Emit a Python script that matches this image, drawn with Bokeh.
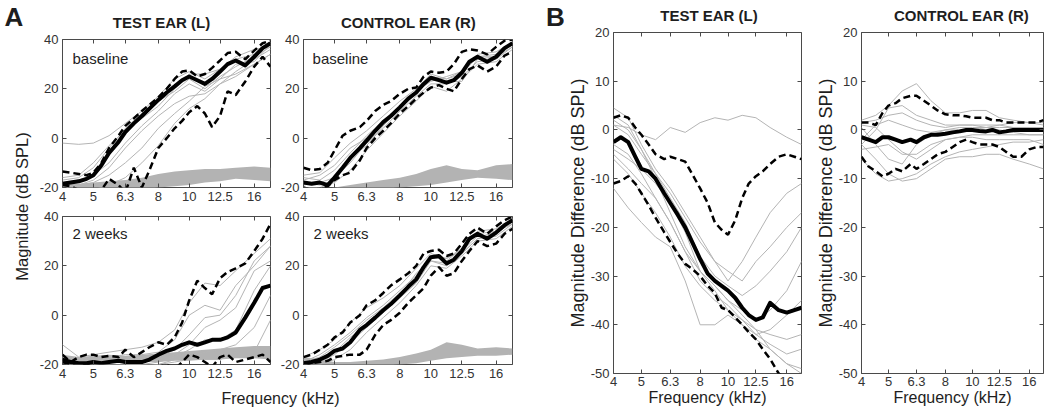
import math
from bokeh.plotting import figure
from bokeh.models import Range1d, FixedTicker, LinearAxis, LogAxis, CustomJSTickFormatter
from bokeh.layouts import row, column
from bokeh.embed import file_html
from bokeh.resources import INLINE
from bokeh.core.properties import value

# ---------------- data ----------------
FREQ_FINE = [4.0, 4.24, 4.5, 4.76, 5.0, 5.3, 5.6, 6.0, 6.3, 6.7, 7.1, 7.5, 8.0, 8.5, 9.0,
             9.5, 10.0, 10.6, 11.2, 11.8, 12.5, 13.2, 14.0, 15.0, 16.0, 17.0, 18.0]
FREQ_COARSE = [4.0, 4.5, 5.0, 5.6, 6.3, 7.1, 8.0, 9.0, 10.0, 11.2, 12.5, 14.0, 16.0, 18.0]
X_TICKS = [4, 5, 6.3, 8, 10, 12.5, 16]
A_Y_TICKS = [-20, 0, 20, 40]
B_Y_TICKS = [-50, -40, -30, -20, -10, 0, 10, 20]

# Panel A, test ear, baseline
A_TL_MEAN = [-18.5, -18, -17.5, -16.5, -15, -11, -6, -1.5, 2.5, 6, 9, 12, 15.5, 18.5, 21,
             23.5, 25, 23.5, 22, 24, 27, 30, 31.5, 29.5, 33, 36.5, 38.5]
A_TL_UPPER = [-13.5, -14, -14.5, -15, -14, -10, -4, 1, 5, 8, 11, 13.5, 16.5, 20, 24,
              27, 27.5, 25, 26, 28.5, 31.5, 34.5, 35, 32, 35.5, 38.5, 39.5]
A_TL_LOWER = [-19, -19.5, -21, -22, -22, -21, -16.5, -19, -22, -12, -20, -13, -4, 0, 4,
              7, 10.5, 13, 10, 4.5, 9, 19, 17.5, 23, 29, 33, 29]
A_TL_GREY = [
    [-2, -2.5, -2, 1, 6, 11, 17, 24, 27, 24, 28, 33, 36, 37],
    [-17, -16, -12, -4, 4, 10, 15, 19, 24, 20, 25, 29, 33, 37],
    [-19, -19, -17, -12, -4, 3, 9, 14, 17, 18, 22, 27, 32, 36],
    [-20, -19, -18, -15, -10, -4, 4, 10, 15, 21, 24, 26, 30, 34],
    [-21, -21, -21, -19, -16, -10, -3, 6, 12, 16, 22, 25, 30, 34],
    [-16, -15, -10, -3, 3, 8, 13, 20, 26, 26, 28, 32, 34, 38],
    [-18, -17, -15, -10, -2, 5, 11, 18, 22, 19, 24, 30, 31, 38],
]
A_TL_BAND_HI = [-18.5, -18.5, -18, -17.5, -17, -16, -14.5, -13.5, -13, -12.5, -12.5, -12, -11.5, -12]
A_TL_BAND_LO = [-21, -21, -21, -21, -21, -21, -20, -19.5, -19, -18, -17.5, -16.5, -17, -17.5]

# Panel A, control ear, baseline
A_TR_MEAN = [-18, -18.5, -18, -19, -16, -12, -8, -4, -1, 3, 6.5, 9, 12.5, 16, 18.5,
             22, 24.5, 23.5, 22.5, 23.5, 26.5, 31, 33, 31, 33, 36.5, 38.5]
A_TR_UPPER = [-12, -13, -12.5, -10, -5, 1, 3, 4.5, 7, 11, 13.5, 15, 18, 20, 20.5,
              25, 27, 26.5, 27, 30, 35, 36, 35.5, 34, 37, 39.5, 40]
A_TR_LOWER = [-20, -21, -20.5, -19.5, -17, -15, -14, -9, -4, 0, 3, 6, 10, 13, 16,
              18.5, 20.5, 21.5, 20, 19, 24, 28, 29.5, 27, 29, 33.5, 35]
A_TR_GREY = [
    [-16, -17, -13, -6, 1, 7, 13, 19, 25, 24, 26, 33, 34, 39],
    [-19, -18, -16, -10, -2, 4, 11, 17, 22, 22, 25, 31, 32, 37],
    [-15, -14, -8, -2, 3, 9, 15, 20, 26, 24, 27, 34, 35, 39],
    [-20, -20, -18, -13, -5, 2, 9, 15, 21, 19, 24, 30, 31, 36],
    [-18, -19, -17, -8, -3, 5, 12, 18, 24, 23, 23, 32, 33, 38],
    [-17, -15, -11, -4, 0, 6, 13, 19, 23, 25, 27, 33, 33, 37],
]
A_TR_BAND_HI = [-21, -21, -20, -19, -18, -17, -16, -14.5, -12.5, -11, -12.5, -13, -11, -10.5]
A_TR_BAND_LO = [-21, -21, -21, -21, -21, -20.5, -20, -19.5, -19, -18, -17, -16, -16.5, -17]

# Panel A, test ear, 2 weeks
A_BL_MEAN = [-18, -19, -19.5, -19.5, -19, -19.5, -19, -18.5, -19, -19, -19, -18, -16, -14.5, -13.5,
             -12, -11, -12, -11, -10, -10, -9, -7, -1, 5, 11, 12]
A_BL_UPPER = [-16, -19, -17, -16, -16, -17, -16.5, -17, -14, -17, -15, -13, -11, -12, -9,
              -3, 6, 14, 11, 8.5, 15, 17.5, 19, 21, 26, 31, 37]
A_BL_LOWER = [-19, -20, -21, -19.5, -21, -22, -22, -22, -21, -22, -21, -22, -21, -20, -22,
              -19, -16, -17, -19, -21, -17, -16, -19, -18, -17, -16, -19]
A_BL_GREY = [
    [-12, -17, -16, -15, -14, -13, -11, -6, 5, 13, 12, 18, 25, 31],
    [-17, -18, -17, -17, -16, -16, -15, -10, 0, 4, 2, 12, 20, 28],
    [-19, -19, -18, -18, -18, -18, -17, -14, -8, -1, 0, 8, 22, 28],
    [-20, -20, -19, -19, -19, -19, -18, -16, -12, -5, -2, 3, 18, 22],
    [-21, -21, -20, -20, -20, -20, -19, -17, -14, -10, -10, -6, 10, 20],
    [-21, -21, -21, -21, -20, -20, -20, -18, -17, -15, -14, -12, -5, 8],
    [-22, -22, -21, -21, -21, -21, -20, -19, -18, -18, -18, -15, -15, -2],
]
A_BL_BAND_HI = [-16, -17, -16.5, -16, -16.5, -16, -15.5, -15, -14.5, -14, -13.5, -13, -12.5, -12.5]
A_BL_BAND_LO = [-20, -19.5, -19.5, -19, -19.5, -19, -19, -18.5, -18.5, -18, -18, -17.5, -17.5, -18]

# Panel A, control ear, 2 weeks
A_BR_MEAN = [-19.5, -19, -18, -16.5, -14.5, -13.5, -11, -6, -4, -1, 2, 4.5, 8, 11.5, 14.5,
             19.5, 23.5, 24, 21, 22.5, 26, 31, 33, 31, 33.5, 36.5, 38.5]
A_BR_UPPER = [-17, -16, -14, -12, -9, -7, -3, 0, 4, 6, 9, 12, 14.5, 17, 20,
              25, 26, 26.5, 24, 25, 29, 33, 35.5, 33, 36, 38.5, 40]
A_BR_LOWER = [-20, -19.5, -19, -18.5, -17, -16.5, -16, -16, -14, -8, -4, -2, 1, 5, 8,
              11, 16, 19.5, 16, 17, 22, 26, 30, 28, 29, 33, 35]
A_BR_GREY = [
    [-19, -16, -12, -7, -1, 4, 10, 16, 24, 22, 27, 33, 34, 39],
    [-20, -19, -16, -11, -5, 1, 7, 13, 22, 20, 25, 31, 32, 37],
    [-17, -14, -10, -3, 3, 7, 12, 19, 25, 23, 27, 34, 35, 39],
    [-21, -20, -18, -14, -7, -1, 5, 12, 20, 19, 24, 30, 31, 36],
    [-19, -17, -13, -8, -2, 3, 9, 15, 23, 23, 26, 32, 33, 38],
    [-18, -18, -15, -9, -4, 2, 8, 17, 22, 21, 25, 31, 34, 37],
]
A_BR_BAND_HI = [-17, -18, -19, -19, -18.5, -18, -17, -15.5, -14, -11, -12, -13.5, -13, -13.5]
A_BR_BAND_LO = [-21, -21, -21, -21, -20.5, -20.5, -20, -19.5, -18.5, -17.5, -17, -16.5, -16.5, -16]

# Panel B, test ear difference
B_L_MEAN = [-2.5, -1.5, -2.5, -5.5, -8, -8.5, -10, -13, -15, -17.5, -20, -23, -26.5, -29.5, -31,
            -32, -33, -34.5, -36.5, -38, -39, -38.5, -35.5, -37, -37.5, -37, -36.5]
B_L_UPPER = [2.5, 3, 2.5, 0.5, -1, -3, -5, -6, -5.5, -6, -6.5, -9, -12, -15, -19,
             -20.5, -21.5, -18.5, -14, -11, -9.5, -8.5, -7, -5.5, -5, -5.5, -6]
B_L_LOWER = [-11, -10.5, -9.5, -11, -13, -15.5, -18, -21, -23, -25.5, -27.5, -28.5, -30, -32, -33.5,
             -36.5, -37, -38.5, -40, -41.5, -43, -45, -47, -50, -51, -52, -53]
B_L_GREY = [
    [1, 0.5, -1, -2, 0.5, -0.5, 1.5, 2.5, 2, 3, 2.5, 0.5, -1.5, -3],
    [4.5, 2.5, -3, -8, -12, -17, -22, -27, -31, -27, -22, -17, -13, -11],
    [3, 1, -4, -9, -13, -18, -23, -27, -29, -31, -27, -24, -20, -17],
    [1, -1, -5, -9, -14, -19, -26, -30, -32, -34, -32, -29, -25, -20],
    [-4, -6, -8, -11, -15, -21, -29, -32, -35, -37, -39, -37, -33, -27],
    [-12, -16, -19, -22, -24, -31, -40, -40, -38, -40, -42, -41, -38, -35],
    [-5, -8, -11, -14, -19, -25, -31, -34, -36, -39, -41, -42, -43, -42],
    [-6, -9, -13, -17, -22, -28, -32, -35, -37, -39, -42, -44, -46, -45],
    [-3, -5, -9, -14, -19, -25, -29, -32, -35, -38, -41, -45, -48, -50],
    [2, 0, -4, -10, -17, -24, -29, -33, -37, -40, -43, -45, -48, -49],
]

# Panel B, control ear difference
B_R_MEAN = [-1.5, -2, -2.5, -1.5, -1.5, -2, -2.5, -2, -2.5, -1.5, -1, -1, -0.8, -0.5, -0.3,
            0, 0, -0.2, -0.3, 0, -0.5, -0.3, 0, 0, 0, 0, 0]
B_R_UPPER = [1.5, 1.5, 1, 3.5, 5, 5.5, 6.5, 7, 7, 6, 5, 4, 3.2, 3, 3,
             2.8, 2.5, 2.5, 2.5, 2, 2, 1.5, 1.5, 1.5, 1.5, 1.5, 2]
B_R_LOWER = [-5.5, -7.5, -8.5, -9.5, -9, -8, -8.5, -7, -8, -7, -6, -5, -4.5, -3.5, -2.5,
             -2, -2.5, -3, -3, -3, -3.5, -4.5, -5.5, -5.5, -4, -3.5, -3.5]
B_R_GREY = [
    [2, 3, 5, 8, 9.5, 6, 3.5, 3.5, 4, 4, 2.5, 2, 1.5, 1],
    [-3, 0, 4.5, 5, 3, 2, 1, 1, 1, 1, 1, 1.5, 1.5, 1.5],
    [0.5, -3, -6, -7, -3, -1, 0, 0.5, 0.5, 0.5, 0.5, 0.5, 0.5, 0],
    [-3, -6, -9, -10.5, -10, -8, -6, -5.5, -5.5, -5, -5, -6, -7, -8],
    [-6, -9, -10.5, -10, -9, -7, -5.5, -4.5, -4, -3.5, -3, -2.5, -2.5, -2],
    [1, 0.5, -2, -4.5, -6, -4, -2, -1.5, -1, -1, -1, -1, -1, -1],
    [-2, 1, 2, 1, 0, -0.5, 0, 0, 0, 0.5, 1, 0.5, 0.5, 0.5],
    [-4, -3.5, -3, -5, -5, -3, -2, -1.5, -1.5, -2, -2, -2, -2, -3],
    [1.5, 2, 3, 3.5, 2, 1, 0.5, 1, 1, 0.5, 0, -0.5, -1, -1],
]

# ---------------- styling ----------------
FONT = "Liberation Sans"
TXT = "#1e1e1e"
TICK_TXT = "#333333"
FRAME = "#4a4a4a"
GREY_LINE = "#b4b4b4"
BAND = "#b3b3b3"


def strip(width, height):
    p = figure(width=width, height=height, x_range=Range1d(0, width), y_range=Range1d(0, height),
               x_axis_type=None, y_axis_type=None, output_backend="svg", toolbar_location=None,
               title=None, min_border=0, min_border_left=0, min_border_right=0,
               min_border_top=0, min_border_bottom=0, outline_line_color=None)
    p.background_fill_color = "white"
    p.border_fill_color = "white"
    return p


def put_text(p, x, y, text, size, bold=False, align="left", angle=0.0):
    # (x, y) is the vertical middle of the text line
    p.text(x=[x], y=[y], text=[text], text_font=value(FONT), text_font_size=value(size),
           text_font_style=value("bold" if bold else "normal"), text_color=TXT,
           text_align=value(align), text_baseline=value("middle"), angle=angle)


def panel(width, height, left, right, top, bottom, yr, yticks):
    p = figure(width=width, height=height, x_axis_type="log", x_range=Range1d(4, 18),
               y_range=Range1d(*yr), output_backend="svg", toolbar_location=None, title=None,
               min_border_left=left, min_border_right=right,
               min_border_top=top, min_border_bottom=bottom)
    p.grid.visible = False
    p.outline_line_color = FRAME
    p.outline_line_width = 1
    p.background_fill_color = "white"
    p.border_fill_color = "white"
    xt = FixedTicker(ticks=X_TICKS)
    yt = FixedTicker(ticks=yticks)
    fmt = CustomJSTickFormatter(code="return String(tick);")
    blank = CustomJSTickFormatter(code="return '';")
    bottom_ax = p.below[0]
    left_ax = p.left[0]
    bottom_ax.ticker = xt
    bottom_ax.formatter = fmt
    left_ax.ticker = yt
    left_ax.formatter = fmt
    top_ax = LogAxis(ticker=xt, formatter=blank)
    right_ax = LinearAxis(ticker=yt, formatter=blank)
    p.add_layout(top_ax, "above")
    p.add_layout(right_ax, "right")
    for ax in [bottom_ax, left_ax, top_ax, right_ax]:
        ax.axis_line_color = None
        ax.major_tick_in = 4
        ax.major_tick_out = 0
        ax.minor_tick_line_color = None
        ax.major_tick_line_color = FRAME
        ax.major_label_text_font = FONT
        ax.major_label_text_font_size = "13px"
        ax.major_label_text_color = TICK_TXT
        ax.major_label_standoff = 4
    for ax in [top_ax, right_ax]:
        ax.major_label_text_font_size = "0px"
        ax.major_label_standoff = 0
    return p, bottom_ax, left_ax


def draw(p, mean, upper, lower, greys, band_lo=None, band_hi=None):
    if band_lo is not None:
        p.varea(x=FREQ_COARSE, y1=band_lo, y2=band_hi, fill_color=BAND)
    for g in greys:
        p.line(FREQ_COARSE, g, line_color=GREY_LINE, line_width=1)
    p.line(FREQ_FINE, upper, line_color="black", line_width=2.5, line_dash="7 4")
    p.line(FREQ_FINE, lower, line_color="black", line_width=2.5, line_dash="7 4")
    p.line(FREQ_FINE, mean, line_color="black", line_width=4, line_join="round")


def in_frame_text(p, x, y, text):
    p.text(x=[x], y=[y], text=[text], text_font=value(FONT), text_font_size=value("15px"),
           text_color=TXT, text_align=value("left"), text_baseline=value("middle"))


# ---------------- panel A ----------------
strip_left = strip(36, 412)
put_text(strip_left, 4, 396, "A", "26px", bold=True)
put_text(strip_left, 21, 206, "Magnitude (dB SPL)", "16.5px", align="center", angle=math.pi / 2)

strip_top_a = strip(484, 31)
put_text(strip_top_a, 125, 8.6, "TEST EAR (L)", "15px", bold=True, align="center")
put_text(strip_top_a, 372, 8.6, "CONTROL EAR (R)", "15px", bold=True, align="center")

tl, _, _ = panel(239, 177, 25, 5, 8, 21, (-20, 40), A_Y_TICKS)
draw(tl, A_TL_MEAN, A_TL_UPPER, A_TL_LOWER, A_TL_GREY, A_TL_BAND_LO, A_TL_BAND_HI)
in_frame_text(tl, 4.3, 32.4, "baseline")

tr, _, _ = panel(245, 177, 28, 8, 8, 21, (-20, 40), A_Y_TICKS)
draw(tr, A_TR_MEAN, A_TR_UPPER, A_TR_LOWER, A_TR_GREY, A_TR_BAND_LO, A_TR_BAND_HI)
in_frame_text(tr, 4.27, 32.4, "baseline")

bl, _, _ = panel(239, 176, 25, 5, 8, 20, (-20, 40), A_Y_TICKS)
draw(bl, A_BL_MEAN, A_BL_UPPER, A_BL_LOWER, A_BL_GREY, A_BL_BAND_LO, A_BL_BAND_HI)
in_frame_text(bl, 4.3, 33.2, "2 weeks")

br, _, _ = panel(245, 176, 28, 8, 8, 20, (-20, 40), A_Y_TICKS)
draw(br, A_BR_MEAN, A_BR_UPPER, A_BR_LOWER, A_BR_GREY, A_BR_BAND_LO, A_BR_BAND_HI)
in_frame_text(br, 4.3, 33.2, "2 weeks")

strip_bottom_a = strip(484, 28)
put_text(strip_bottom_a, 244, 14.5, "Frequency (kHz)", "16px", align="center")

# ---------------- panel B ----------------
strip_left_b = strip(44, 412)
put_text(strip_left_b, 25.5, 396, "B", "26px", bold=True)

strip_top_b = strip(484, 24)
put_text(strip_top_b, 144.5, 8.7, "TEST EAR (L)", "15px", bold=True, align="center")
put_text(strip_top_b, 397, 8.7, "CONTROL EAR (R)", "15px", bold=True, align="center")

b_left, bl_x, bl_y = panel(242, 388, 49, 5, 8, 39, (-50, 20), B_Y_TICKS)
draw(b_left, B_L_MEAN, B_L_UPPER, B_L_LOWER, B_L_GREY)

b_right, br_x, br_y = panel(242, 388, 55, 5, 8, 39, (-50, 20), B_Y_TICKS)
draw(b_right, B_R_MEAN, B_R_UPPER, B_R_LOWER, B_R_GREY)

for xax, yax in ((bl_x, bl_y), (br_x, br_y)):
    yax.axis_label = "Magnitude Difference (dB SPL)"
    xax.axis_label = "Frequency (kHz)"
    for ax, size in ((yax, "18px"), (xax, "16px")):
        ax.axis_label_text_font = FONT
        ax.axis_label_text_font_size = size
        ax.axis_label_text_font_style = "normal"
        ax.axis_label_text_color = TXT
        ax.axis_label_standoff = 0
    xax.major_label_standoff = 3

col_a = column(strip_top_a, row(tl, tr), row(bl, br), strip_bottom_a)
col_b = column(strip_top_b, row(b_left, b_right))
layout = row(strip_left, col_a, strip_left_b, col_b)

open("out.html", "w").write(file_html(layout, INLINE))
